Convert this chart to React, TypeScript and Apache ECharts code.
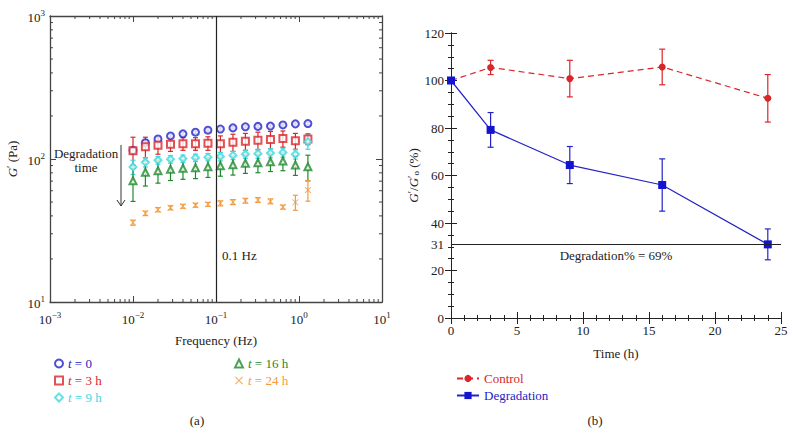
import React, { useEffect, useRef } from "react";
import * as echarts from "echarts";

// ---------- data (a) ----------
const freq = [0.01, 0.0141, 0.02, 0.0283, 0.04, 0.0566, 0.08, 0.113, 0.16, 0.226, 0.32, 0.453, 0.64, 0.905, 1.28];
const g0 = [115, 130, 138, 145, 150, 154, 159, 162, 165, 168, 169, 170, 173, 176, 177];
const g3 = [114, 122, 125, 127, 128, 128, 129, 128, 131, 133, 135, 137, 139, 134, 138];
const g9 = [88, 95, 98, 99.5, 100.5, 102, 103, 104, 106, 108, 109, 110, 111, 108, 132];
const g16 = [70.5, 80.7, 82.8, 84.7, 86.1, 86.9, 88.3, 89.8, 91.2, 93.3, 94.2, 95.7, 96.8, 90.8, 88.3];
const g24 = [35.9, 41.7, 44.2, 45.6, 46.7, 47.5, 48.2, 49.0, 50.0, 51.1, 51.7, 50.6, 46.1, 49.8, 60.7];
const e0 = [4, 4, 3, 3, 3, 3, 3, 3, 3, 3, 3, 3, 3, 3, 4];
const e3 = [28, 20, 17, 14, 13, 13, 14, 17, 18, 18, 19, 19, 18, 17, 12];
const e9 = [10, 7, 6, 6, 6, 6, 6, 7, 7, 7, 8, 8, 8, 8, 15];
const e16 = [20, 16, 15, 14, 14, 14, 14, 14, 14, 14, 14, 14, 14, 14, 18];
const e24 = [1.5, 1.5, 1.5, 1.5, 1.5, 1.5, 1.5, 2, 2, 2, 2, 2, 1.5, 6, 10];
const seriesNamesA = ["t = 0", "t = 3 h", "t = 9 h", "t = 16 h", "t = 24 h"];
const minorX = [2, 3, 4, 5, 6, 7, 8, 9].flatMap((m) => [m * 0.001, m * 0.01, m * 0.1, m * 1]);
const minorY = [2, 3, 4, 5, 6, 7, 8, 9].flatMap((m) => [m * 10, m * 100]);

// ---------- data (b) ----------
const timeH = [0, 3, 9, 16, 24];
const control = [100, 105.5, 100.8, 105.7, 92.5];
const controlErr = [0, 3, 7.7, 7.5, 10];
const degradation = [100, 79.2, 64.4, 56, 31];
const degradationErr = [0, 7.3, 7.8, 11, 6.5];
const finalLevel = 31;

const FONT = "'Liberation Serif', 'Times New Roman', serif";
const C_BLUE = "#2323c8";
const C_RED = "#d9262b";
const C_CYAN = "#3fd8e0";
const C_GREEN = "#1f8a2e";
const C_ORANGE = "#f59a3a";
const colorsA = [C_BLUE, C_RED, C_CYAN, C_GREEN, C_ORANGE];
const X_SYMBOL = "path://M0,1 L1,0 L5,4 L9,0 L10,1 L6,5 L10,9 L9,10 L5,6 L1,10 L0,9 L4,5 Z";
const symbolsA = ["emptyCircle", "emptyRect", "emptyDiamond", "emptyTriangle", X_SYMBOL];

function supLabel(v: number) {
  const e = Math.round(Math.log10(v));
  return `{b|10}{s|${e < 0 ? "\u2212" + -e : e}}`;
}

const supRich = {
  b: { fontFamily: FONT, fontSize: 13, color: "#222", verticalAlign: "bottom" },
  s: { fontFamily: FONT, fontSize: 9, color: "#222", verticalAlign: "bottom", padding: [0, 0, 7, 0] },
};

function errRender(color: string, cap: number) {
  return (params: any, api: any) => {
    const x = api.value(0);
    const y = api.value(1);
    const e = api.value(2);
    if (!e) return null;
    const p1 = api.coord([x, y + e]);
    const p2 = api.coord([x, y - e]);
    const st = { stroke: color, lineWidth: 1.2 };
    return {
      type: "group",
      children: [
        { type: "line", shape: { x1: p1[0], y1: p1[1], x2: p2[0], y2: p2[1] }, style: st },
        { type: "line", shape: { x1: p1[0] - cap, y1: p1[1], x2: p1[0] + cap, y2: p1[1] }, style: st },
        { type: "line", shape: { x1: p2[0] - cap, y1: p2[1], x2: p2[0] + cap, y2: p2[1] }, style: st },
      ],
    };
  };
}

export default function App() {
  const ref = useRef<HTMLDivElement>(null);
  useEffect(() => {
    if (!ref.current) return;
    const chart = echarts.init(ref.current, null, { renderer: "svg" });
    const valsA = [g0, g3, g9, g16, g24];
    const errsA = [e0, e3, e9, e16, e24];

    const axisLineA = { show: true, lineStyle: { color: "#444", width: 1.3 } };
    const logX = {
      type: "log",
      logBase: 10,
      min: 0.001,
      max: 10,
      gridIndex: 0,
      splitLine: { show: false },
      axisLine: axisLineA,
      axisTick: { inside: true, length: 6, lineStyle: { color: "#444" } },
    };
    const logY = {
      type: "log",
      logBase: 10,
      min: 10,
      max: 1000,
      gridIndex: 0,
      splitLine: { show: false },
      axisLine: axisLineA,
      axisTick: { inside: true, length: 6, lineStyle: { color: "#444" } },
    };
    const axisLineB = { show: true, lineStyle: { color: "#222", width: 1 } };
    const linX = {
      type: "value",
      min: 0,
      max: 25,
      interval: 5,
      gridIndex: 1,
      splitLine: { show: false },
      axisLine: axisLineB,
      axisTick: { inside: true, length: 6, lineStyle: { color: "#222" } },
      minorTick: { show: true, splitNumber: 5, length: 3, lineStyle: { color: "#222" } },
    };
    const linY = {
      type: "value",
      min: 0,
      max: 120,
      interval: 20,
      gridIndex: 1,
      splitLine: { show: false },
      axisLine: axisLineB,
      axisTick: { inside: true, length: 6, lineStyle: { color: "#222" } },
      minorTick: { show: true, splitNumber: 4, length: 3, lineStyle: { color: "#222" } },
    };

    const series: any[] = [];
    // error bars (a)
    valsA.forEach((vals, k) => {
      series.push({
        type: "custom",
        name: "err" + k,
        xAxisIndex: 0,
        yAxisIndex: 0,
        z: 2,
        silent: true,
        dimensions: ["x", "y", "e"],
        encode: { x: 0, y: 1 },
        data: freq.map((f, i) => [f, vals[i], errsA[k][i]]),
        renderItem: errRender(colorsA[k], 2.5),
      });
    });
    // markers (a)
    valsA.forEach((vals, k) => {
      series.push({
        type: "scatter",
        name: seriesNamesA[k],
        xAxisIndex: 0,
        yAxisIndex: 0,
        z: 3,
        symbol: symbolsA[k],
        symbolSize: k === 4 ? 6.5 : 7,
        itemStyle: { color: colorsA[k], borderWidth: 1.2 },
        data: freq.map((f, i) => [f, vals[i]]),
        markLine:
          k === 0
            ? {
                silent: true,
                symbol: "none",
                label: { show: false },
                lineStyle: { color: "#222", type: "solid", width: 1.2 },
                data: [{ xAxis: 0.1 }],
              }
            : undefined,
      });
    });
    // minor log ticks (a)
    series.push({
      type: "custom",
      name: "minorX",
      xAxisIndex: 0,
      yAxisIndex: 0,
      silent: true,
      data: minorX.map((v) => [v, 10]),
      renderItem: (params: any, api: any) => {
        const v = api.value(0);
        const b = api.coord([v, 10]);
        const t = api.coord([v, 1000]);
        const st = { stroke: "#444", lineWidth: 1 };
        return {
          type: "group",
          children: [
            { type: "line", shape: { x1: b[0], y1: b[1], x2: b[0], y2: b[1] - 3 }, style: st },
            { type: "line", shape: { x1: t[0], y1: t[1], x2: t[0], y2: t[1] + 3 }, style: st },
          ],
        };
      },
    });
    series.push({
      type: "custom",
      name: "minorY",
      xAxisIndex: 0,
      yAxisIndex: 0,
      silent: true,
      data: minorY.map((v) => [0.001, v]),
      renderItem: (params: any, api: any) => {
        const v = api.value(1);
        const l = api.coord([0.001, v]);
        const r = api.coord([10, v]);
        const st = { stroke: "#444", lineWidth: 1 };
        return {
          type: "group",
          children: [
            { type: "line", shape: { x1: l[0], y1: l[1], x2: l[0] + 3, y2: l[1] }, style: st },
            { type: "line", shape: { x1: r[0], y1: r[1], x2: r[0] - 3, y2: r[1] }, style: st },
          ],
        };
      },
    });

    // (b)
    series.push({
      type: "custom",
      name: "errControl",
      xAxisIndex: 2,
      yAxisIndex: 2,
      z: 2,
      silent: true,
      dimensions: ["x", "y", "e"],
      encode: { x: 0, y: 1 },
      data: timeH.map((t, i) => [t, control[i], controlErr[i]]),
      renderItem: errRender(C_RED, 3),
    });
    series.push({
      type: "custom",
      name: "errDeg",
      xAxisIndex: 2,
      yAxisIndex: 2,
      z: 2,
      silent: true,
      dimensions: ["x", "y", "e"],
      encode: { x: 0, y: 1 },
      data: timeH.map((t, i) => [t, degradation[i], degradationErr[i]]),
      renderItem: errRender(C_BLUE, 3),
    });
    series.push({
      type: "line",
      name: "Control",
      xAxisIndex: 2,
      yAxisIndex: 2,
      z: 3,
      symbol: "circle",
      symbolSize: 7,
      itemStyle: { color: C_RED },
      lineStyle: { color: C_RED, type: [6, 4], width: 1.2 },
      data: timeH.map((t, i) => [t, control[i]]),
    });
    series.push({
      type: "line",
      name: "Degradation",
      xAxisIndex: 2,
      yAxisIndex: 2,
      z: 4,
      symbol: "rect",
      symbolSize: 8,
      itemStyle: { color: "#1414d0" },
      lineStyle: { color: C_BLUE, width: 1.2 },
      data: timeH.map((t, i) => [t, degradation[i]]),
      markLine: {
        silent: true,
        symbol: "none",
        lineStyle: { color: "#222", type: "solid", width: 1 },
        data: [
          {
            yAxis: finalLevel,
            label: {
              show: true,
              position: "start",
              distance: 7,
              formatter: String(finalLevel),
              fontFamily: FONT,
              fontSize: 13,
              color: "#222",
            },
          },
          {
            yAxis: finalLevel,
            label: {
              show: true,
              position: "insideMiddleBottom",
              distance: 5,
              formatter: "Degradation% = 69%",
              fontFamily: FONT,
              fontSize: 13,
              color: "#222",
            },
          },
        ],
      },
    });

    const legendRich = (names: string[], cols: string[]) => {
      const rich: any = {};
      cols.forEach((c, i) => {
        rich["i" + i] = { fontFamily: FONT, fontSize: 13, fontStyle: "italic", color: c };
        rich["n" + i] = { fontFamily: FONT, fontSize: 13, color: c };
      });
      return {
        rich,
        formatter: (name: string) => {
          const i = names.indexOf(name);
          return `{i${i}|t}{n${i}|${name.slice(1)}}`;
        },
      };
    };
    const l1names = seriesNamesA.slice(0, 3);
    const l2names = seriesNamesA.slice(3);
    const lr1 = legendRich(l1names, colorsA.slice(0, 3));
    const lr2 = legendRich(l2names, colorsA.slice(3));

    const textCommon = { fontFamily: FONT, fontSize: 13, fill: "#222" };

    chart.setOption({
      animation: false,
      backgroundColor: "#fff",
      textStyle: { fontFamily: FONT },
      grid: [
        { left: 50, top: 16, width: 332, height: 286 },
        { left: 451, top: 33, width: 330, height: 285 },
      ],
      xAxis: [
        {
          ...logX,
          position: "bottom",
          axisLabel: { formatter: supLabel, margin: 8, rich: supRich },
          name: "Frequency (Hz)",
          nameLocation: "middle",
          nameGap: 32,
          nameTextStyle: { fontFamily: FONT, fontSize: 13, color: "#222" },
        },
        { ...logX, position: "top", axisLabel: { show: false } },
        {
          ...linX,
          position: "bottom",
          axisLabel: { fontFamily: FONT, fontSize: 13, color: "#222", margin: 6 },
          name: "Time (h)",
          nameLocation: "middle",
          nameGap: 29,
          nameTextStyle: { fontFamily: FONT, fontSize: 13, color: "#222" },
        },
        { ...linX, position: "top", axisLabel: { show: false } },
      ],
      yAxis: [
        {
          ...logY,
          position: "left",
          axisLabel: { formatter: supLabel, margin: 5, rich: supRich },
          name: "{it|G}{p|\u2032} (Pa)",
          nameLocation: "middle",
          nameGap: 30,
          nameTextStyle: {
            fontFamily: FONT,
            fontSize: 13,
            color: "#222",
            rich: {
              it: { fontFamily: FONT, fontSize: 13, fontStyle: "italic", color: "#222" },
              p: { fontFamily: FONT, fontSize: 11, color: "#222", verticalAlign: "bottom", padding: [0, 0, 5, 0] },
            },
          },
        },
        { ...logY, position: "right", axisLabel: { show: false } },
        {
          ...linY,
          position: "left",
          axisLabel: { fontFamily: FONT, fontSize: 13, color: "#222", margin: 7 },
          name: "{it|G}{p|\u2032}/{it|G}{p|\u2032}{o|o} (%)",
          nameLocation: "middle",
          nameGap: 28,
          nameTextStyle: {
            fontFamily: FONT,
            fontSize: 13,
            color: "#222",
            rich: {
              it: { fontFamily: FONT, fontSize: 13, fontStyle: "italic", color: "#222" },
              p: { fontFamily: FONT, fontSize: 11, color: "#222", verticalAlign: "bottom", padding: [0, 0, 5, 0] },
              o: { fontFamily: FONT, fontSize: 9, color: "#222", verticalAlign: "top", padding: [6, 0, 0, 0] },
            },
          },
        },
        { ...linY, position: "right", axisLabel: { show: false } },
      ],
      legend: [
        {
          left: 49,
          top: 352,
          orient: "vertical",
          itemGap: 4,
          itemWidth: 8,
          itemHeight: 8,
          data: l1names,
          selectedMode: false,
          textStyle: { fontFamily: FONT, fontSize: 13, rich: lr1.rich },
          formatter: lr1.formatter,
        },
        {
          left: 229,
          top: 352,
          orient: "vertical",
          itemGap: 4,
          itemWidth: 8,
          itemHeight: 8,
          data: l2names,
          selectedMode: false,
          textStyle: { fontFamily: FONT, fontSize: 13, rich: lr2.rich },
          formatter: lr2.formatter,
        },
        {
          left: 451,
          top: 367,
          orient: "vertical",
          itemGap: 4,
          itemWidth: 22,
          itemHeight: 9,
          selectedMode: false,
          data: [
            { name: "Control", textStyle: { color: C_RED } },
            { name: "Degradation", textStyle: { color: C_BLUE } },
          ],
          textStyle: { fontFamily: FONT, fontSize: 13 },
        },
      ],
      graphic: [
        {
          type: "text",
          x: 86,
          y: 153,
          style: { ...textCommon, text: "Degradation", textAlign: "center", textVerticalAlign: "middle" },
        },
        {
          type: "text",
          x: 86,
          y: 167,
          style: { ...textCommon, text: "time", textAlign: "center", textVerticalAlign: "middle" },
        },
        {
          type: "line",
          shape: { x1: 121, y1: 145, x2: 121, y2: 206 },
          style: { stroke: "#777", lineWidth: 1.5 },
        },
        {
          type: "polyline",
          shape: { points: [[117, 200], [121, 206], [125, 200]] },
          style: { stroke: "#333", lineWidth: 1, fill: null },
        },
        {
          type: "text",
          x: 222,
          y: 255,
          style: { ...textCommon, text: "0.1 Hz", textVerticalAlign: "middle" },
        },
        {
          type: "text",
          x: 197,
          y: 420,
          style: { ...textCommon, text: "(a)", textAlign: "center", textVerticalAlign: "middle" },
        },
        {
          type: "text",
          x: 595,
          y: 420,
          style: { ...textCommon, text: "(b)", textAlign: "center", textVerticalAlign: "middle" },
        },
      ],
      series,
    });
    return () => chart.dispose();
  }, []);
  return (
    <div
      ref={ref}
      style={{ position: "fixed", left: 0, top: 0, width: 796, height: 434, background: "#fff" }}
    />
  );
}
